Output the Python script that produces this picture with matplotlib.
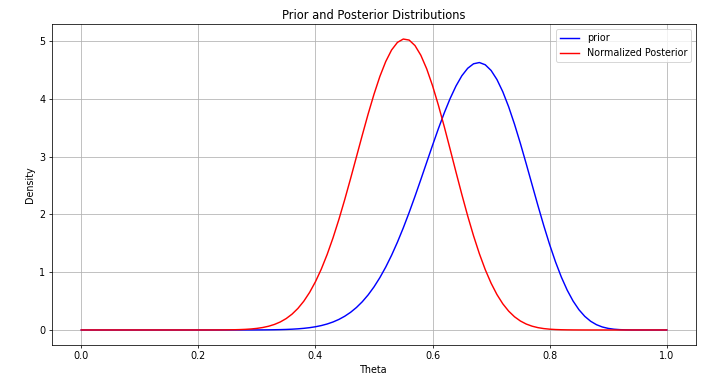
import matplotlib
matplotlib.use('Agg')
import matplotlib.pyplot as plt

# theta grid, 0.00 .. 1.00 in steps of 0.01 (rows of ten)
theta = [0.00, 0.01, 0.02, 0.03, 0.04, 0.05, 0.06, 0.07, 0.08, 0.09,
         0.10, 0.11, 0.12, 0.13, 0.14, 0.15, 0.16, 0.17, 0.18, 0.19,
         0.20, 0.21, 0.22, 0.23, 0.24, 0.25, 0.26, 0.27, 0.28, 0.29,
         0.30, 0.31, 0.32, 0.33, 0.34, 0.35, 0.36, 0.37, 0.38, 0.39,
         0.40, 0.41, 0.42, 0.43, 0.44, 0.45, 0.46, 0.47, 0.48, 0.49,
         0.50, 0.51, 0.52, 0.53, 0.54, 0.55, 0.56, 0.57, 0.58, 0.59,
         0.60, 0.61, 0.62, 0.63, 0.64, 0.65, 0.66, 0.67, 0.68, 0.69,
         0.70, 0.71, 0.72, 0.73, 0.74, 0.75, 0.76, 0.77, 0.78, 0.79,
         0.80, 0.81, 0.82, 0.83, 0.84, 0.85, 0.86, 0.87, 0.88, 0.89,
         0.90, 0.91, 0.92, 0.93, 0.94, 0.95, 0.96, 0.97, 0.98, 0.99,
         1.00]

prior = [0, 0, 0, 0, 0, 0, 0, 0, 0, 0,
         0, 0, 0, 0, 0, 0, 0, 0, 0, 0,
         0, 0, 0, 0, 0, 0, 0.0001, 0.0002, 0.0003, 0.0006,
         0.0009, 0.0015, 0.0025, 0.0039, 0.006, 0.009, 0.0134, 0.0196, 0.0281, 0.0398,
         0.0555, 0.0763, 0.1034, 0.1382, 0.1824, 0.2377, 0.3059, 0.3891, 0.489, 0.6075,
         0.7461, 0.9064, 1.0886, 1.2936, 1.5204, 1.7678, 2.0339, 2.3148, 2.6064, 2.9036,
         3.1994, 3.4873, 3.7598, 4.0083, 4.2249, 4.4025, 4.5322, 4.6104, 4.6319, 4.5934,
         4.4947, 4.3372, 4.1253, 3.8648, 3.5631, 3.2311, 2.8774, 2.5153, 2.1542, 1.8054,
         1.478, 1.1795, 0.9154, 0.689, 0.5013, 0.3511, 0.2357, 0.1507, 0.0911, 0.0516,
         0.0271, 0.0129, 0.0055, 0.002, 0.0006, 0.0002, 0, 0, 0, 0,
         0]

posterior = [0, 0, 0, 0, 0, 0, 0, 0, 0, 0,
             0, 0, 0, 0, 0, 0, 0, 0, 0, 0,
             0.0001, 0.0001, 0.0003, 0.0005, 0.001, 0.0019, 0.0035, 0.0061, 0.0104, 0.0171,
             0.0273, 0.0426, 0.0647, 0.096, 0.1391, 0.1973, 0.2739, 0.3726, 0.4969, 0.6503,
             0.8356, 1.0547, 1.3082, 1.5954, 1.9137, 2.2582, 2.6226, 2.9986, 3.3749, 3.7413,
             4.0832, 4.3907, 4.6486, 4.8489, 4.9807, 5.039, 5.0213, 4.9261, 4.7577, 4.5228,
             4.23, 3.892, 3.5213, 3.1314, 2.7357, 2.3472, 1.9756, 1.6311, 1.3197, 1.0452,
             0.8098, 0.6129, 0.4527, 0.326, 0.2283, 0.1554, 0.1025, 0.0655, 0.0403, 0.0239,
             0.0136, 0.0074, 0.0038, 0.0019, 0.0009, 0.0004, 0.0001, 0, 0, 0,
             0, 0, 0, 0, 0, 0, 0, 0, 0, 0,
             0]

fig = plt.figure(figsize=(720 / 69, 378 / 69), dpi=69)
ax = fig.add_axes([0.0722, 0.0886, 0.8945, 0.8466])

ax.plot(theta, prior, color='blue', label='prior')
ax.plot(theta, posterior, color='red', label='Normalized Posterior')

ax.set_title('Prior and Posterior Distributions')
ax.set_xlabel('Theta')
ax.set_ylabel('Density')
ax.legend(loc='upper right')
ax.grid(True)

fig.savefig('out.png', dpi=69)
